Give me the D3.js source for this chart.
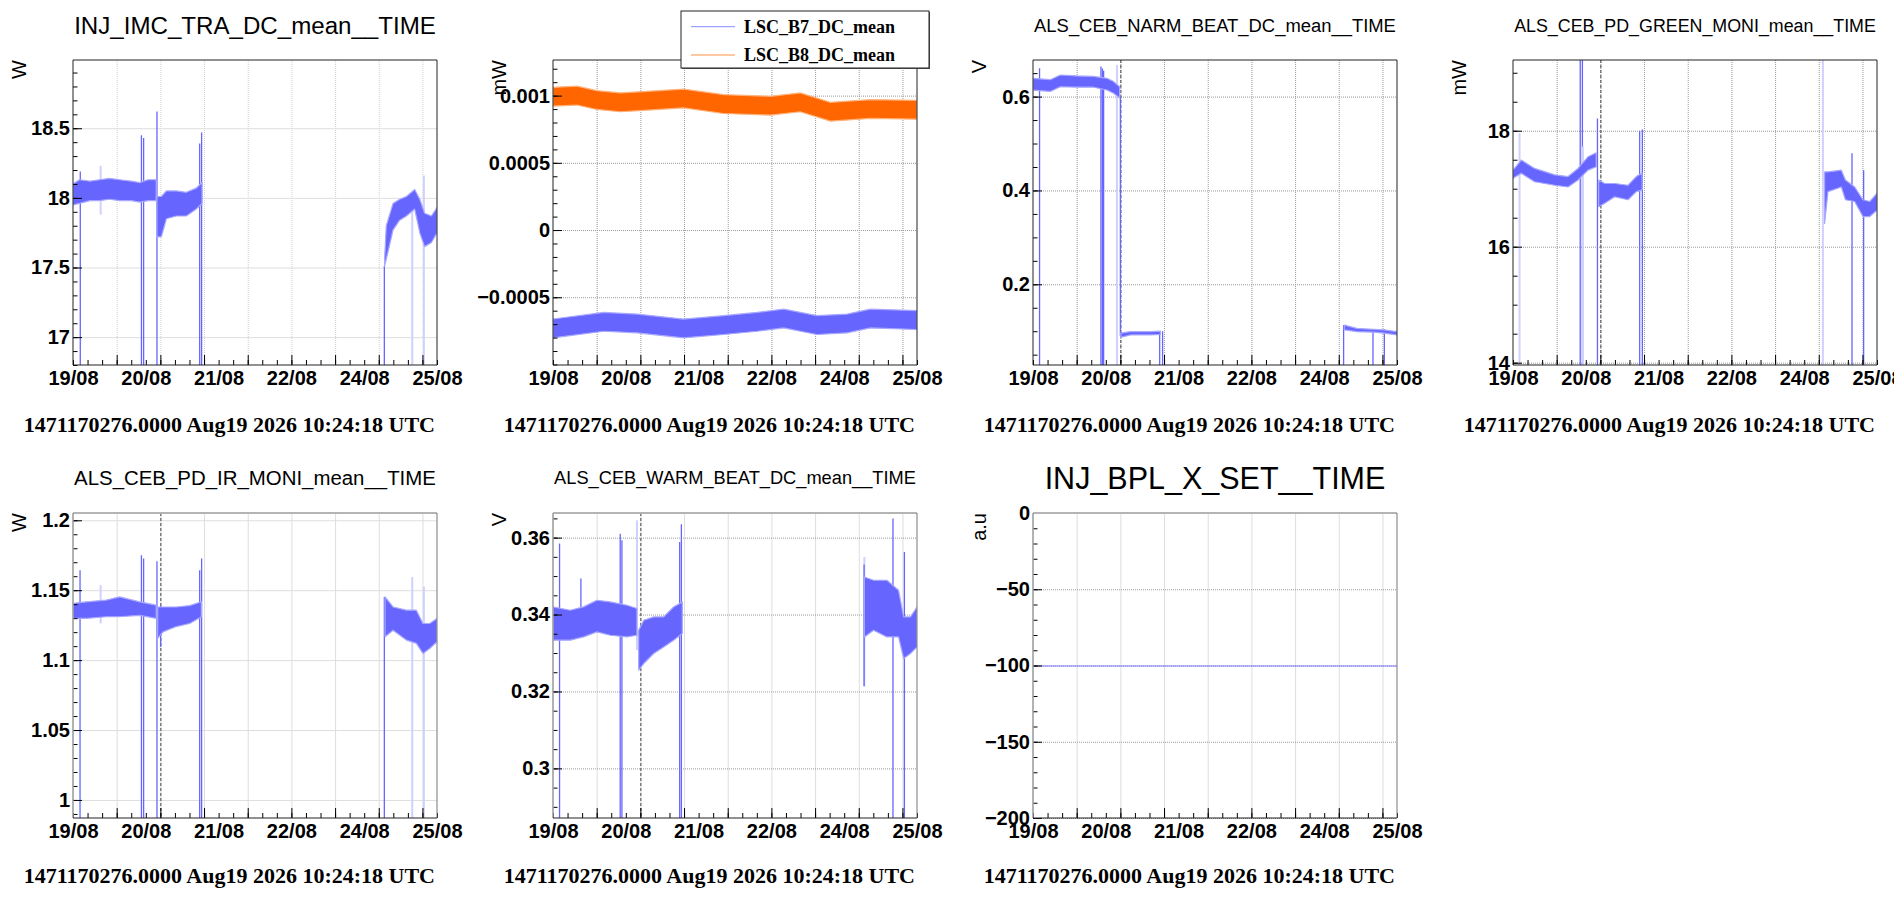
<!DOCTYPE html>
<html>
<head>
<meta charset="utf-8">
<script src="https://cdn.jsdelivr.net/npm/d3@7"></script>
<style>
  body { margin: 0; background: #fff; }
  svg { display: block; }
</style>
</head>
<body>
<div id="chart"></div>
<script>
// time axis, in hours after the time offset
const xSpan = [0, 150];
const xLabelHours = [0, 30, 60, 90, 120, 150];
const xLabels = ["19/08", "20/08", "21/08", "22/08", "24/08", "25/08"];
const xGridHours = [18, 36, 54, 72, 90, 108, 126, 144];
const xMinorStep = 6;
const markerHour = 36;
const timeOffsetLabel = "1471170276.0000 Aug19 2026 10:24:18 UTC";

const titles = [
    "INJ_IMC_TRA_DC_mean__TIME", "", "ALS_CEB_NARM_BEAT_DC_mean__TIME", "ALS_CEB_PD_GREEN_MONI_mean__TIME",
    "ALS_CEB_PD_IR_MONI_mean__TIME", "ALS_CEB_WARM_BEAT_DC_mean__TIME", "INJ_BPL_X_SET__TIME"
];
const units = ["W", "mW", "V", "mW", "W", "V", "a.u"];
const yDomains = [
    [16.80, 18.99], [-0.001004, 0.001265], [0.028, 0.678], [13.96, 19.22],
    [0.9871, 1.2052], [0.2871, 0.3664], [-200, 0]
];
const yMajorTicks = [
    [17, 17.5, 18, 18.5], [-0.0005, 0, 0.0005, 0.001], [0.2, 0.4, 0.6], [14, 16, 18],
    [1, 1.05, 1.1, 1.15, 1.2], [0.3, 0.32, 0.34, 0.36], [-200, -150, -100, -50, 0]
];
const yMinorSteps = [0.1, 0.0001, 0.05, 0.5, 0.01, 0.005, 10];

// bands are [hour, low, high] envelopes of the dense noisy traces
// spikes are [hour, from, to, faint]
const imcTraBands = [
    [[0, 17.95, 18.10], [2.7, 17.96, 18.13], [7, 17.98, 18.12], [11, 17.98, 18.13], [15, 17.99, 18.14],
     [19.2, 17.98, 18.13], [24, 17.98, 18.12], [27.5, 17.97, 18.11], [31, 17.98, 18.13], [34.3, 17.98, 18.13]],
    [[34.6, 17.72, 18.01], [36.4, 17.72, 18.01], [38.5, 17.85, 18.05], [42.6, 17.87, 18.05],
     [46.7, 17.87, 18.04], [50.8, 17.92, 18.07], [53.2, 17.96, 18.11]],
    [[128.4, 17.51, 17.56], [129.1, 17.56, 17.80], [131.9, 17.77, 17.96], [134.6, 17.84, 17.99],
     [137.4, 17.87, 18.01], [140.8, 17.92, 18.06], [142.9, 17.75, 17.99], [144.9, 17.65, 17.89],
     [147.7, 17.68, 17.87], [150, 17.75, 17.93]]
];
const imcTraSpikes = [
    [3.0, 18.19, 0, 0], [11.4, 18.23, 17.88, 1], [28.2, 18.45, 0, 0], [29.1, 18.43, 0, 0],
    [34.6, 18.62, 0, 0], [52.2, 18.39, 0, 0], [53.0, 18.47, 0, 0], [128.3, 17.51, 0, 0],
    [139.8, 18.0, 0, 1], [144.6, 18.16, 0, 1]
];

const seriesNames = ["LSC_B7_DC_mean", "LSC_B8_DC_mean"];
const b7Band = [
    [0, -0.000802, -0.000662], [20.9, -0.000753, -0.000613], [34.6, -0.000765, -0.000625],
    [53.8, -0.000802, -0.000662], [70.3, -0.000777, -0.000637], [84.1, -0.000753, -0.000613],
    [95.1, -0.000728, -0.000588], [108.8, -0.000777, -0.000637], [121.2, -0.000765, -0.000625],
    [130.8, -0.000728, -0.000588], [150, -0.00074, -0.0006]
];
const b8Band = [
    [0, 0.000922, 0.001062], [9.9, 0.00093, 0.00107], [18.1, 0.000897, 0.001037], [27.7, 0.00088, 0.00102],
    [37.4, 0.00089, 0.00103], [53.8, 0.000909, 0.001049], [70.3, 0.000867, 0.001007], [89.6, 0.000855, 0.000995],
    [101.9, 0.00088, 0.00102], [114.3, 0.00081, 0.00095], [130.8, 0.00083, 0.00097], [150, 0.000825, 0.000965]
];

const narmBands = [
    [[0, 0.614, 0.639], [7.1, 0.611, 0.636], [11.3, 0.621, 0.646], [18.1, 0.620, 0.644], [25, 0.620, 0.643],
     [30.5, 0.614, 0.639], [33.2, 0.607, 0.632], [35.7, 0.597, 0.621]],
    [[36.2, 0.087, 0.096], [40.1, 0.092, 0.099], [48.4, 0.092, 0.099], [52.5, 0.093, 0.100]],
    [[128.3, 0.103, 0.113], [133.5, 0.099, 0.106], [140.4, 0.098, 0.104], [144.5, 0.096, 0.103], [150, 0.092, 0.099]]
];
const narmSpikes = [
    [2.7, 0.6605, 0, 0], [28.0, 0.664, 0, 0], [28.6, 0.66, 0, 0], [29.1, 0.655, 0, 0], [34.6, 0.6676, 0, 1],
    [36, 0.60, 0.09, 0], [52.2, 0.1, 0, 0], [53.4, 0.1, 0, 0], [128.0, 0, 0.113, 0],
    [140.1, 0.104, 0, 0], [144.8, 0.104, 0, 0]
];

const greenBands = [
    [[0, 17.18, 17.32], [3.4, 17.265, 17.495], [8.9, 17.12, 17.35], [17.2, 17.06, 17.24], [22.7, 17.03, 17.21],
     [26.8, 17.15, 17.35], [30.9, 17.32, 17.55], [34.3, 17.38, 17.62]],
    [[35.3, 16.69, 17.15], [37.8, 16.75, 17.09], [41.9, 16.86, 17.09], [47.4, 16.81, 17.06],
     [50.8, 16.95, 17.21], [53.2, 16.98, 17.27]],
    [[128.4, 16.4, 17.29], [129.8, 16.95, 17.29], [135.3, 17.03, 17.32], [137, 16.81, 17.15],
     [140.8, 16.78, 17.03], [144.2, 16.52, 16.81], [147, 16.52, 16.78], [150, 16.63, 16.92]]
];
const greenSpikes = [
    [2.7, 17.955, 0, 1], [27.7, 20, 0, 0], [28.6, 20, 0, 0], [28.8, 17.73, 0, 1], [34.8, 18.21, 0, 0],
    [52.2, 18.0, 0, 0], [53.3, 18.02, 0, 0], [127.7, 20, 0, 1], [139.7, 17.61, 0, 0], [144.5, 17.32, 0, 0]
];

const irBands = [
    [[0, 1.1298, 1.1405], [5.5, 1.1298, 1.1417], [13.7, 1.131, 1.1429], [19.2, 1.131, 1.1452],
     [27.5, 1.132, 1.1417], [34.3, 1.1298, 1.1393]],
    [[34.9, 1.1155, 1.138], [37.1, 1.1202, 1.138], [42.6, 1.124, 1.138], [48.1, 1.1262, 1.139], [52.9, 1.131, 1.1417]],
    [[128.6, 1.1167, 1.1452], [131.9, 1.1214, 1.138], [137.4, 1.1143, 1.1357], [141.5, 1.112, 1.1357],
     [144.2, 1.1048, 1.1262], [147, 1.1083, 1.1262], [150, 1.1131, 1.1298]]
];
const irSpikes = [
    [2.9, 1.1643, 0, 0], [11.4, 1.1536, 1.1262, 1], [28.2, 1.175, 0, 0], [29.1, 1.1726, 0, 0],
    [34.6, 1.1707, 0, 0], [36.1, 1.1393, 1.1095, 0], [52.2, 1.1643, 0, 0], [53.0, 1.1726, 0, 0],
    [128.3, 1.1452, 0, 0], [139.8, 1.1595, 0, 1], [144.6, 1.1524, 0, 1]
];

const warmBands = [
    [[0, 0.33333, 0.34197], [7.1, 0.33333, 0.34112], [12.6, 0.33418, 0.342], [18.1, 0.33548, 0.34371],
     [23.6, 0.33462, 0.34327], [30.5, 0.33418, 0.34242], [34.6, 0.33462, 0.34156]],
    [[35.3, 0.32553, 0.33592], [37.4, 0.32727, 0.33852], [41.5, 0.32987, 0.33938], [45.6, 0.33159, 0.33938],
     [49.7, 0.33333, 0.34197], [53.3, 0.33506, 0.34327]],
    [[128.3, 0.33418, 0.34977], [132.1, 0.33592, 0.34891], [137.6, 0.33418, 0.34891], [142.4, 0.33418, 0.34631],
     [144.5, 0.32857, 0.33938], [147.3, 0.32987, 0.33938], [150, 0.33159, 0.34197]]
];
const warmSpikes = [
    [2.7, 0.35844, 0, 0], [11.5, 0.34935, 0.33938, 0], [27.7, 0.361, 0, 0], [28.4, 0.3593, 0, 0],
    [34.6, 0.36449, 0.33073, 1], [52.2, 0.35886, 0, 0], [52.9, 0.36345, 0, 0],
    [128.3, 0.35496, 0.3212, 1], [128.2, 0.353, 0.3214, 0], [140.1, 0.36494, 0, 0], [144.8, 0.35626, 0, 0]
];

const bplLine = [[0, -100], [150, -100]];

// ---------------------------------------------------------------------------
const width = 1894, height = 900;
const padW = 480, frameDX = 73, frameW = 364;
const frameTop = [60, 513];
const frameBottom = [365, 818];
const titleMidY = [25.5, 477.7];
const dateBaseline = [432, 883];

const blue = "#6666ff", blueHalo = "#a8a8ff", blueFaint = "#d0d0ff";
const orange = "#ff6600", orangeHalo = "#ffb27a";

const gridStyles = {
    solid: { stroke: "#dedede", dash: null },
    dot: { stroke: "#9a9a9a", dash: "1,1" },
    faint: { stroke: "#cfcfcf", dash: "1,1" }
};

const panels = [
    { col: 0, row: 0, gridV: "faint", gridH: "solid", bands: imcTraBands, spikes: imcTraSpikes },
    { col: 1, row: 0, gridV: "dot", gridH: "dot", legend: true },
    { col: 2, row: 0, gridV: "dot", gridH: "dot", bands: narmBands, spikes: narmSpikes, marker: true },
    { col: 3, row: 0, gridV: "dot", gridH: "dot", bands: greenBands, spikes: greenSpikes, marker: true },
    { col: 0, row: 1, gridV: "solid", gridH: "solid", bands: irBands, spikes: irSpikes, marker: true },
    { col: 1, row: 1, gridV: "solid", gridH: "dot", bands: warmBands, spikes: warmSpikes, marker: true },
    { col: 2, row: 1, gridV: "solid", gridH: "dot", line: bplLine }
];

const svg = d3.select("#chart").append("svg")
    .attr("width", width)
    .attr("height", height)
    .attr("viewBox", [0, 0, width, height]);

const fmt = d3.format("~g");

panels.forEach((p, i) => {
    const padLeft = p.col * padW;
    const left = padLeft + frameDX, right = left + frameW;
    const top = frameTop[p.row], bottom = frameBottom[p.row];

    const x = d3.scaleLinear().domain(xSpan).range([left, right]);
    const y = d3.scaleLinear().domain(yDomains[i]).range([bottom, top]);

    const g = svg.append("g");

    g.append("clipPath").attr("id", "clip" + i)
        .append("rect")
        .attr("x", left).attr("y", top)
        .attr("width", frameW).attr("height", bottom - top);

    // grid
    const gv = gridStyles[p.gridV], gh = gridStyles[p.gridH];
    g.append("g").selectAll("line")
        .data(xGridHours)
        .join("line")
        .attr("x1", d => x(d) + 0.5).attr("x2", d => x(d) + 0.5)
        .attr("y1", top).attr("y2", bottom)
        .attr("stroke", gv.stroke)
        .attr("stroke-dasharray", gv.dash);
    g.append("g").selectAll("line")
        .data(yMajorTicks[i])
        .join("line")
        .attr("x1", left).attr("x2", right)
        .attr("y1", d => y(d) + 0.5).attr("y2", d => y(d) + 0.5)
        .attr("stroke", gh.stroke)
        .attr("stroke-dasharray", gh.dash);

    const plot = g.append("g").attr("clip-path", `url(#clip${i})`);

    const area = d3.area()
        .x(d => x(d[0]))
        .y0(d => y(d[1]))
        .y1(d => y(d[2]));

    if (p.marker) {
        plot.append("line")
            .attr("x1", x(markerHour) + 0.5).attr("x2", x(markerHour) + 0.5)
            .attr("y1", top).attr("y2", bottom)
            .attr("stroke", "#444")
            .attr("stroke-dasharray", "3,2");
    }

    if (p.spikes) {
        plot.append("g").selectAll("line")
            .data(p.spikes)
            .join("line")
            .attr("x1", d => x(d[0])).attr("x2", d => x(d[0]))
            .attr("y1", d => y(d[1])).attr("y2", d => y(d[2]))
            .attr("stroke", d => d[3] ? blueFaint : blue)
            .attr("stroke-width", d => d[3] ? 2 : 1.3);
    }

    if (p.bands) {
        plot.append("g").selectAll("path")
            .data(p.bands)
            .join("path")
            .attr("d", area)
            .attr("fill", blue)
            .attr("stroke", blueHalo)
            .attr("stroke-width", 1.2)
            .attr("stroke-linejoin", "round");
    }

    if (p.legend) {
        plot.append("path").datum(b8Band)
            .attr("d", area)
            .attr("fill", orange)
            .attr("stroke", orangeHalo)
            .attr("stroke-width", 1.2);
        plot.append("path").datum(b7Band)
            .attr("d", area)
            .attr("fill", blue)
            .attr("stroke", blueHalo)
            .attr("stroke-width", 1.2);
    }

    if (p.line) {
        plot.append("path").datum(p.line)
            .attr("d", d3.line().x(d => x(d[0])).y(d => y(d[1]) + 0.5))
            .attr("fill", "none")
            .attr("stroke", "#7878ff")
            .attr("stroke-width", 1);
    }

    // x axis ticks (inside the frame) and labels
    const xMinor = d3.range(xSpan[0], xSpan[1] + 0.01, xMinorStep);
    g.append("g")
        .attr("transform", `translate(0,${bottom})`)
        .call(d3.axisBottom(x).tickValues(xMinor).tickSize(-5).tickFormat(""))
        .call(a => a.select(".domain").remove());
    g.append("g")
        .attr("transform", `translate(0,${bottom})`)
        .call(d3.axisBottom(x).tickValues(xGridHours).tickSize(-10).tickFormat(""))
        .call(a => a.select(".domain").remove());
    g.append("g")
        .attr("transform", `translate(0,${bottom})`)
        .call(d3.axisBottom(x).tickValues(xLabelHours).tickSize(0).tickPadding(6)
            .tickFormat((d, k) => xLabels[k]))
        .call(a => a.select(".domain").remove())
        .call(a => a.selectAll("text")
            .attr("font-family", "'Liberation Sans', Arial, sans-serif")
            .attr("font-weight", "bold")
            .attr("font-size", 20)
            .attr("fill", "#000"));

    // y axis
    const step = yMinorSteps[i];
    const [y0, y1] = yDomains[i];
    const yMinor = d3.range(Math.ceil(y0 / step - 1e-6), Math.floor(y1 / step + 1e-6) + 1)
        .map(k => +(k * step).toPrecision(10));
    g.append("g")
        .attr("transform", `translate(${left},0)`)
        .call(d3.axisLeft(y).tickValues(yMinor).tickSize(-4.5).tickFormat(""))
        .call(a => a.select(".domain").remove());
    g.append("g")
        .attr("transform", `translate(${left},0)`)
        .call(d3.axisLeft(y).tickValues(yMajorTicks[i]).tickSize(-9).tickPadding(3).tickFormat(fmt))
        .call(a => a.select(".domain").remove())
        .call(a => a.selectAll("text")
            .attr("font-family", "'Liberation Sans', Arial, sans-serif")
            .attr("font-weight", "bold")
            .attr("font-size", 20)
            .attr("fill", "#000"));

    // frame
    const edge = p.row === 0 ? "#222" : "#b4b4b4";
    g.append("line").attr("x1", left).attr("x2", right).attr("y1", top).attr("y2", top)
        .attr("stroke", edge).attr("stroke-width", p.row === 0 ? 1 : 2);
    g.append("line").attr("x1", right).attr("x2", right).attr("y1", top).attr("y2", bottom)
        .attr("stroke", p.row === 0 ? "#222" : "#777");
    g.append("line").attr("x1", left).attr("x2", left).attr("y1", top).attr("y2", bottom)
        .attr("stroke", p.row === 0 ? "#222" : "#999").attr("stroke-width", p.row === 0 ? 1 : 1.5);
    g.append("line").attr("x1", left).attr("x2", right).attr("y1", bottom).attr("y2", bottom)
        .attr("stroke", "#222");

    // unit label
    g.append("text")
        .attr("transform", `translate(${padLeft + 25.5},${top}) rotate(-90)`)
        .attr("text-anchor", "end")
        .attr("font-family", "'Liberation Sans', Arial, sans-serif")
        .attr("font-size", 20)
        .text(units[i]);

    // title, shrunk to fit the box
    if (titles[i]) {
        const t = g.append("text")
            .attr("x", (left + right) / 2)
            .attr("text-anchor", "middle")
            .attr("font-family", "'Liberation Sans', Arial, sans-serif")
            .attr("font-size", 30)
            .text(titles[i]);
        const len = t.node().getComputedTextLength();
        const fs = Math.min(30.5, 30 * 362 / len);
        t.attr("font-size", fs).attr("y", titleMidY[p.row] + 0.716 * fs / 2);
    }

    // time offset label
    g.append("text")
        .attr("x", right - 2)
        .attr("y", dateBaseline[p.row])
        .attr("text-anchor", "end")
        .attr("font-family", "'Liberation Serif', 'Times New Roman', serif")
        .attr("font-weight", "bold")
        .attr("font-size", 22)
        .text(timeOffsetLabel);

    if (p.legend) {
        const lg = svg.append("g");
        lg.append("rect")
            .attr("x", 682).attr("y", 12).attr("width", 248).attr("height", 57)
            .attr("fill", "#555");
        lg.append("rect")
            .attr("x", 681).attr("y", 11).attr("width", 248).attr("height", 57)
            .attr("fill", "#fff").attr("stroke", "#222");
        const rows = lg.selectAll("g.entry")
            .data(seriesNames)
            .join("g")
            .attr("class", "entry")
            .attr("transform", (d, k) => `translate(0,${26.7 + k * 28.3})`);
        rows.append("line")
            .attr("x1", 691).attr("x2", 735)
            .attr("stroke", (d, k) => k === 0 ? "#8a8aff" : "#ffc8a0")
            .attr("stroke-width", (d, k) => k === 0 ? 1 : 2);
        rows.append("text")
            .attr("x", 744).attr("y", 5.8)
            .attr("font-family", "'Liberation Serif', 'Times New Roman', serif")
            .attr("font-weight", "bold")
            .attr("font-size", 18)
            .text(d => d);
    }
});
</script>
</body>
</html>
